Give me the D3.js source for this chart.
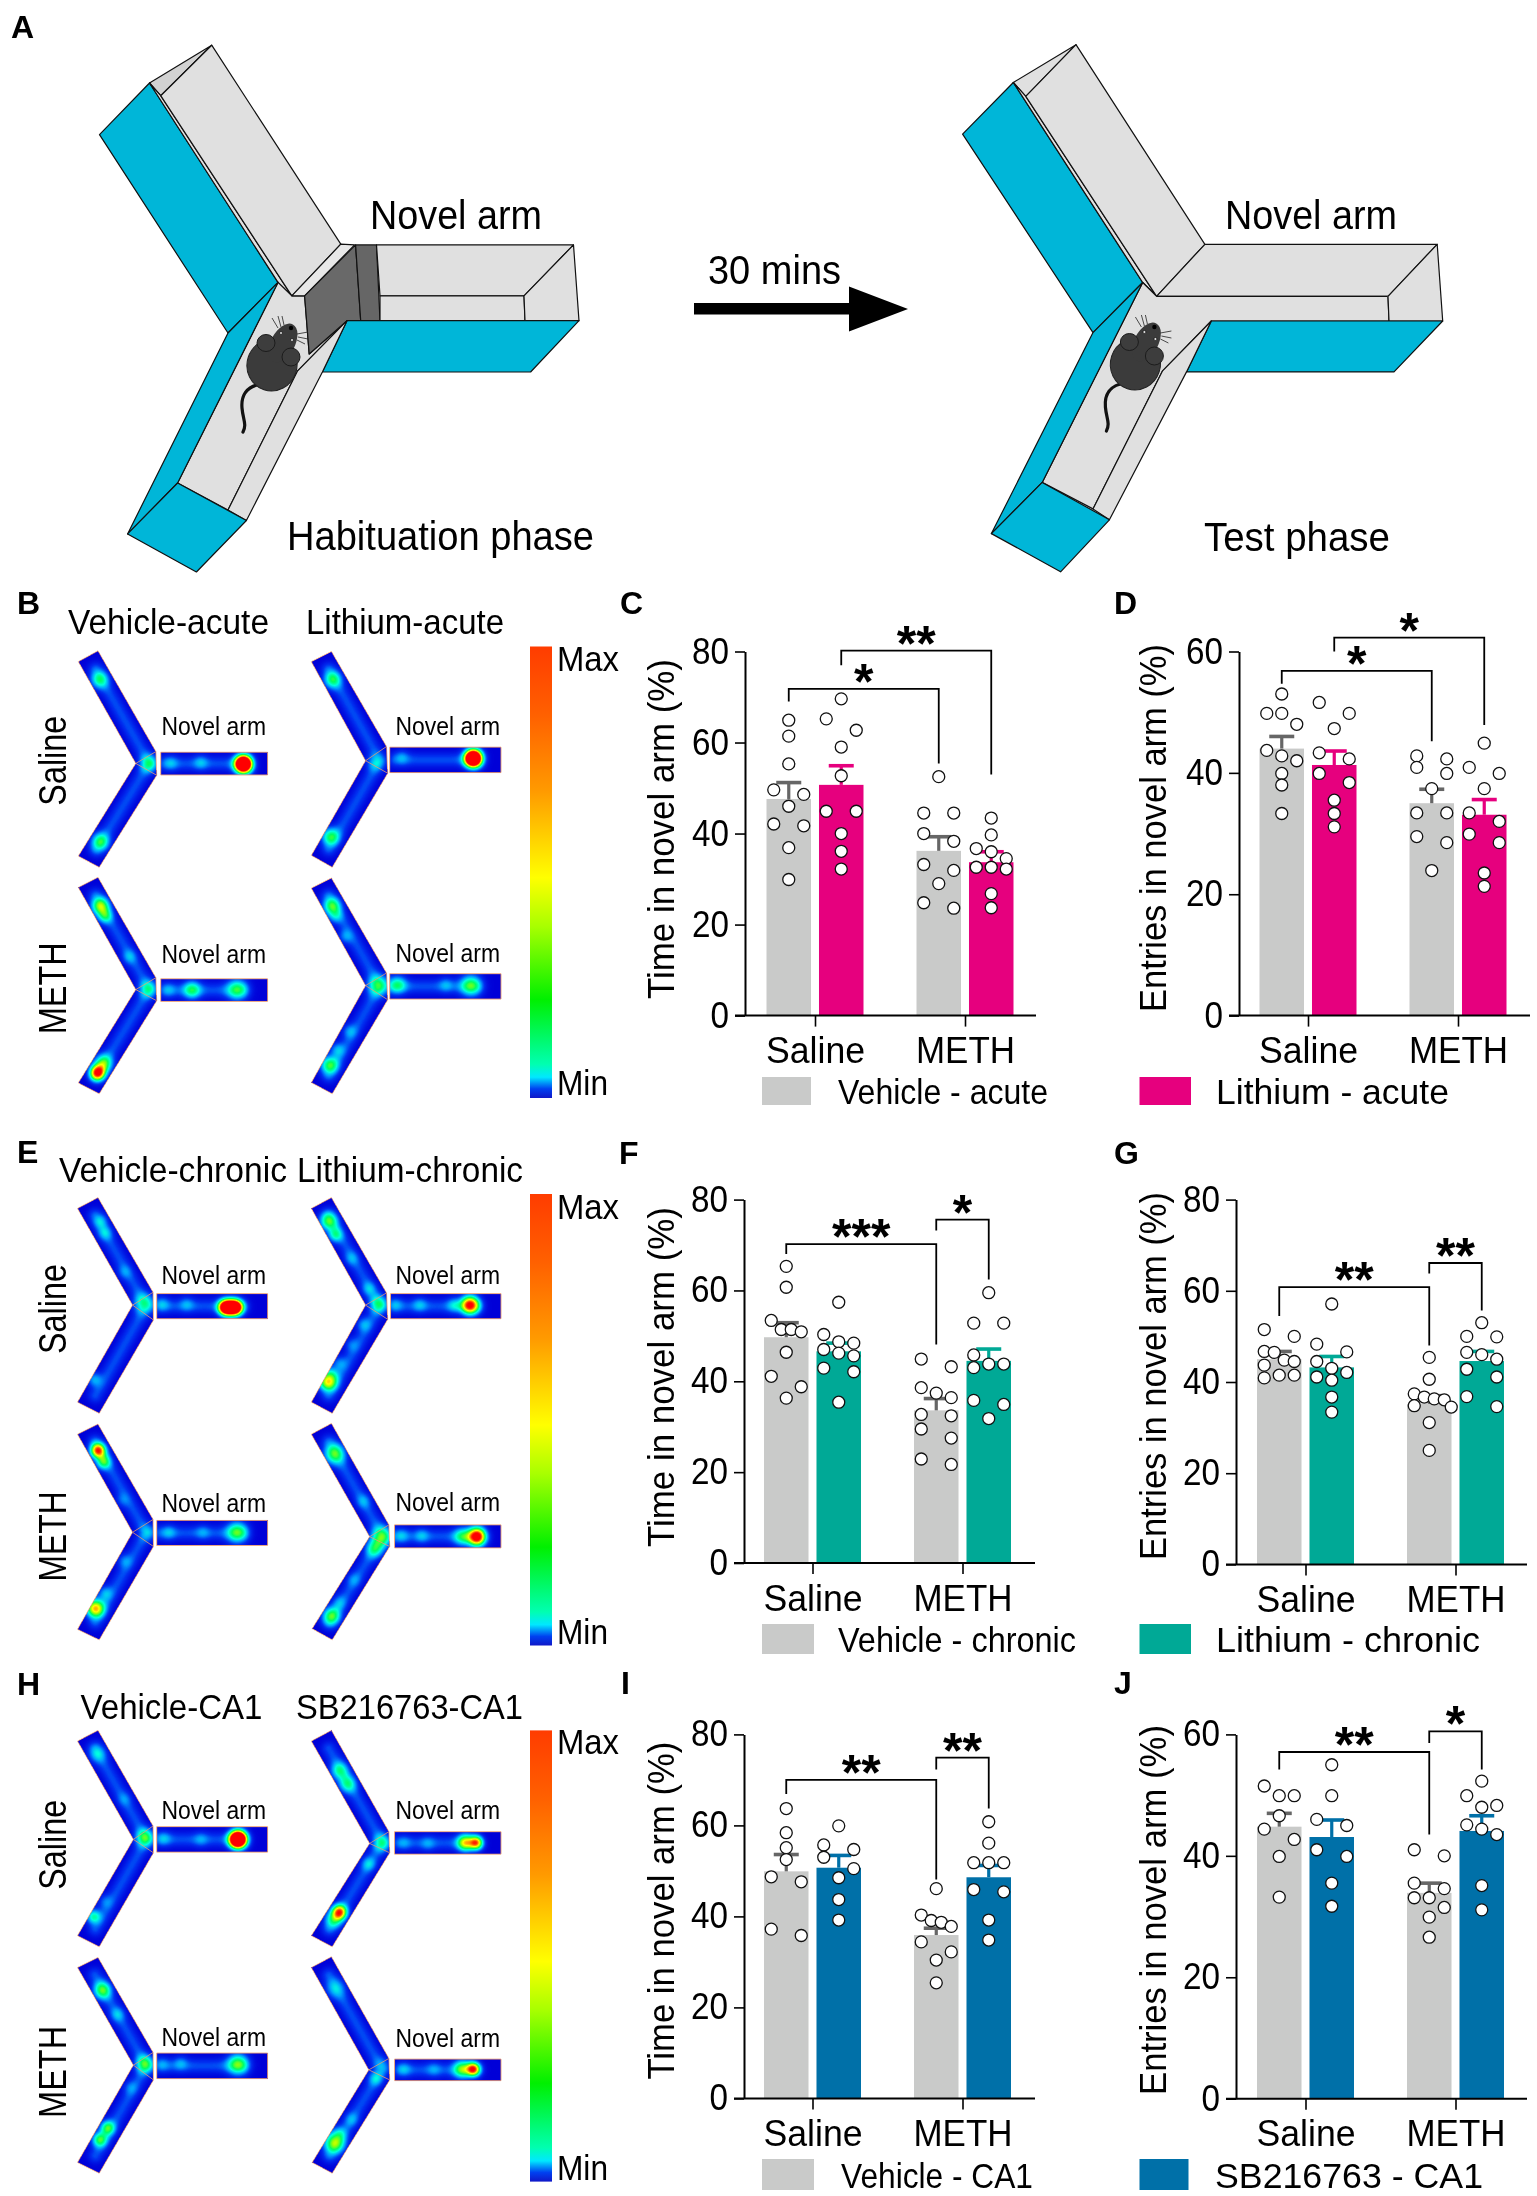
<!DOCTYPE html>
<html><head><meta charset="utf-8">
<script src="https://cdn.jsdelivr.net/npm/d3@7/dist/d3.min.js"></script>
<style>
html,body{margin:0;padding:0;background:#fff}
#wrap{position:relative;width:1537px;height:2196px;overflow:hidden}
canvas,svg{position:absolute;left:0;top:0}
text{font-family:"Liberation Sans",Arial,sans-serif;fill:#000}
</style></head><body><div id="wrap"><canvas id="heat" width="1537" height="2196"></canvas><svg id="fig" width="1537" height="2196"></svg></div>
<script>
// ---------- chart data ----------
const groups = ["Saline","METH"];
const seriesKeys = ["vehicle","drug"];
const C_means=[47.6,50.7,36.2,33.7], C_tops=[51.2,54.9,39.3,36.0];
const C_dots=[[64.9,61.4,55.3,49.6,48.6,46.0,42.1,41.7,36.9,29.9],[69.6,65.2,62.7,59,52.7,44.9,44.9,40,36.1,32.2],[52.5,44.5,44.5,40,38.3,33.2,31.9,29,24.8,23.6],[43.4,39.7,36.7,36,34.5,32.6,32.6,32.2,26.8,23.7]];
const D_means=[44,41.3,35,33.1], D_tops=[46,43.6,37.3,35.6];
const D_dots=[[53,49.8,49.8,48,43.7,42.8,42,39.9,38,33.3],[51.6,49.8,47.3,43.3,42.3,39.9,38.4,35.5,33.3,31.1],[42.8,42.3,40.9,39.9,37.4,33.4,33.4,29.5,28.5,23.9],[44.9,40.9,39.9,37.4,33.4,32,29.9,28.5,23.5,21.3]];
const F_means=[49.7,46.6,33.6,44.5], F_tops=[52.9,48.4,36.2,47.1];
const F_dots=[[65.3,60.7,53.4,51.4,51.4,50.9,46.4,41.1,38.8,36.3],[57.4,50.3,48.7,48.4,47,46.2,45.6,42.9,42.1,35.4],[44.9,43.2,38.6,37.4,36.4,32.7,32.4,29.5,27.5,22.9,21.7],[59.5,52.8,52.8,45.8,43.8,43.8,43,35.8,34.9,31.8]];
const G_means=[45,43.2,35.2,44.6], G_tops=[46.7,45.6,37,46.7];
const G_dots=[[51.5,50,46.7,46.5,44.8,44.5,43.7,41.5,41.5,40.9],[57.1,48.3,46.6,44.5,43,42.1,41.1,40.4,36.7,33.4],[45.4,40.6,37.4,36.7,36.3,36.1,34.8,34.5,31.1,25],[53,50,49.9,46.5,46,45,42.8,41.1,36.8,34.6]];
const I_means=[49.9,50.7,35.9,48.6], I_tops=[53.6,53.4,37.4,51.2];
const I_dots=[[63.7,58.4,55.1,52.5,48.7,47.6,37.2,35.8],[59.9,55.7,54.7,53,50.5,48.5,43.7,39.2],[46.1,40.3,39.1,38.7,37.8,34.4,32.2,30.4,25.4],[60.8,56.1,51.8,51.8,51.8,45.9,45.4,39.2,34.8]];
const J_means=[44.8,43.1,33.9,44.1], J_tops=[47,45.9,35.5,46.6];
const J_dots=[[51.5,49.9,49.9,46.6,44.4,42.7,39.9,33.2],[55,49.9,46,45,41,39.9,35.5,31.7],[41,40,35.5,34.6,33.1,33.1,31.5,29.9,26.6],[52.3,49.9,48.3,48,45.1,44.4,43.5,35.1,31.1]];
// significance: [from bar, to bar, bracket top, left leg end, right leg end, stars]
const C_sig=[[0,2,71.8,69,55.4,"*"],[1,3,80.2,77,53,"**"]];
const D_sig=[[0,2,56.8,54.7,45.2,"*"],[1,3,62.3,60,47.9,"*"]];
const F_sig=[[0,2,70.2,68,48.1,"***"],[2,3,75.6,73.2,62.4,"*"]];
const G_sig=[[0,2,60.8,54.5,48,"**"],[2,3,66.1,63.8,55.7,"**"]];
const I_sig=[[0,2,70,66.9,48.1,"**"],[2,3,74.9,72.3,63.7,"**"]];
const J_sig=[[0,2,57.1,54.2,43.5,"**"],[2,3,60.5,58.6,54.2,"*"]];
const timeTitle="Time in novel arm (%)", entryTitle="Entries in novel arm (%)";
const ticks80=[0,20,40,60,80], ticks60=[0,20,40,60];

const GRAY="#c9cac9", DGRAY="#666666", PINK="#e6007e", TEAL="#00a996", BLUE="#0070a8", CYAN="#00b6d8";

// ---------- layout of the six bar panels ----------
const barPanels=[
 {m:C_means,t:C_tops,d:C_dots,s:C_sig,max:80,ticks:ticks80,ax:745,c:[815,965],y0:1015.6,yT:651.5,title:timeTitle,tx:674,tc:829,tl:340,col:PINK,cat:1063},
 {m:D_means,t:D_tops,d:D_dots,s:D_sig,max:60,ticks:ticks60,ax:1239,c:[1308,1458],y0:1015.6,yT:651.5,title:entryTitle,tx:1166,tc:828,tl:368,col:PINK,cat:1063},
 {m:F_means,t:F_tops,d:F_dots,s:F_sig,max:80,ticks:ticks80,ax:744,c:[812.5,962.5],y0:1563,yT:1199.6,title:timeTitle,tx:674,tc:1377,tl:340,col:TEAL,cat:1611},
 {m:G_means,t:G_tops,d:G_dots,s:G_sig,max:80,ticks:ticks80,ax:1236,c:[1305.5,1455.5],y0:1564.4,yT:1199.6,title:entryTitle,tx:1166,tc:1376,tl:368,col:TEAL,cat:1612},
 {m:I_means,t:I_tops,d:I_dots,s:I_sig,max:80,ticks:ticks80,ax:744,c:[812.5,962.5],y0:2098.4,yT:1734.4,title:timeTitle,tx:674,tc:1910.6,tl:338,col:BLUE,cat:2146},
 {m:J_means,t:J_tops,d:J_dots,s:J_sig,max:60,ticks:ticks60,ax:1236,c:[1305.5,1455.5],y0:2098.7,yT:1734.4,title:entryTitle,tx:1166,tc:1910,tl:370,col:BLUE,cat:2146}
];

const svg=d3.select("#fig");
function T(x,y,str,size,width,o={}){
  const e=svg.append("text").attr("x",x).attr("y",y).attr("font-size",size).text(str);
  if(width){e.attr("textLength",width).attr("lengthAdjust","spacingAndGlyphs");}
  if(o.w)e.attr("font-weight",o.w);
  if(o.a)e.attr("text-anchor",o.a);
  if(o.rot)e.attr("transform",`rotate(-90 ${x} ${y})`);
  return e;
}

// ---------- panel A schematic ----------
const mazeA=[
 [CYAN,[[149.5,83],[99.5,134.7],[228,333],[278,282.4]]],
 ["#d2d2d2",[[149.5,83],[211.7,45.2],[160.7,95.7]]],
 ["#e2e2e2",[[149.5,83],[160.7,95.7],[291.8,295.8],[278,282.4]]],
 ["#e0e0e0",[[211.7,45.2],[340.8,244.2],[291.8,295.8],[160.7,95.7]]],
 ["#e0e0e0",[[278,282.4],[291.8,295.8],[304.6,295.8],[309.2,354],[347,320.7],[297.4,371.2],[228,510],[177.6,483]]],
 [CYAN,[[278,282.4],[228,333],[127.6,533.9],[177.6,483]]],
 ["#e8e8e8",[[340.8,244.2],[354.6,244.9],[304.6,295.8],[291.8,295.8]]],
 ["#696969",[[304.6,295.8],[355.6,244.9],[360.7,320.7],[347,320.7],[309.2,354]]],
 ["#666666",[[355.6,244.9],[376.5,244.9],[380,320.7],[360.7,320.7]]],
 ["#e0e0e0",[[376.5,244.9],[573.5,244.9],[524,295.8],[380,295.8]]],
 ["#e0e0e0",[[380,295.8],[524,295.8],[525,320.7],[380,320.7]]],
 ["#e0e0e0",[[573.5,244.9],[579,320.7],[525,320.7],[524,295.8]]],
 [CYAN,[[347,320.7],[579,320.7],[530.6,372],[322.4,372]]],
 ["#e0e0e0",[[347,320.7],[322.4,372],[246.4,520.5],[228,510],[297.4,371.2]]],
 [CYAN,[[127.6,533.9],[177.6,483],[246.4,520.5],[196.4,572]]]
];
const mazeB=[
 [CYAN,[[1013.3,82.5],[962.6,134.1],[1093,332.6],[1142.7,282.5]]],
 ["#e0e0e0",[[1013.3,82.5],[1076,44.7],[1025.8,96.3]]],
 ["#e2e2e2",[[1013.3,82.5],[1025.8,96.3],[1156.6,296.3],[1142.7,282.5]]],
 ["#e0e0e0",[[1076,44.7],[1204.9,244.3],[1156.6,296.3],[1025.8,96.3]]],
 ["#e0e0e0",[[1204.9,244.3],[1437.2,244.3],[1388,296.3],[1156.6,296.3]]],
 ["#e0e0e0",[[1156.6,296.3],[1388,296.3],[1389,321],[1211.3,321],[1162.6,370.8],[1093,508.9],[1042.2,482.4],[1142.7,282.5]]],
 ["#e0e0e0",[[1437.2,244.3],[1442.7,321],[1389,321],[1388,296.3]]],
 [CYAN,[[1211.3,321],[1442.7,321],[1394,371.9],[1186.5,371.9]]],
 [CYAN,[[1142.7,282.5],[1093,332.6],[991.4,533.6],[1042.2,482.4]]],
 ["#e0e0e0",[[1211.3,321],[1186.5,371.9],[1109.4,519.8],[1093,508.9],[1162.6,370.8]]],
 [CYAN,[[991.4,533.6],[1042.2,482.4],[1109.4,519.8],[1060.6,571.8]]]
];
const lineGen=d3.line();
[mazeA,mazeB].forEach(mz=>mz.forEach(([f,p])=>{
  svg.append("path").attr("d",lineGen(p)+"Z").attr("fill",f).attr("stroke","#111").attr("stroke-width",1.2).attr("stroke-linejoin","round");
}));
function mouse(dx,dy){
  const g=svg.append("g").attr("transform",`translate(${dx},${dy})`);
  const body="#3b3b3b";
  g.append("path").attr("d","M262,384 C246,386 241,396 242,408 C243,420 247,424 243,432").attr("fill","none").attr("stroke","#111").attr("stroke-width",3.2).attr("stroke-linecap","round");
  g.append("ellipse").attr("cx",272).attr("cy",365).attr("rx",25).attr("ry",26).attr("transform","rotate(18 272 365)").attr("fill",body).attr("stroke","#222");
  g.append("ellipse").attr("cx",283).attr("cy",343).attr("rx",12).attr("ry",21).attr("transform","rotate(28 283 343)").attr("fill",body);
  g.append("ellipse").attr("cx",266).attr("cy",343).attr("rx",9).attr("ry",8.5).attr("fill","#3d3d3d").attr("stroke","#1c1c1c");
  g.append("ellipse").attr("cx",291).attr("cy",357).attr("rx",9).attr("ry",9).attr("fill","#3d3d3d").attr("stroke","#1c1c1c");
  [[281,333],[292,340]].forEach(p=>g.append("circle").attr("cx",p[0]).attr("cy",p[1]).attr("r",1.5).attr("fill","#ddd").attr("stroke","#000").attr("stroke-width",.6));
  g.append("circle").attr("cx",291).attr("cy",328).attr("r",2.2).attr("fill","#000");
  [[278,328,272,318],[281,327,278,316],[284,325,282,316],[297,334,308,332],[298,337,308,339],[297,340,305,344]].forEach(l=>
    g.append("line").attr("x1",l[0]).attr("y1",l[1]).attr("x2",l[2]).attr("y2",l[3]).attr("stroke","#222").attr("stroke-width",.8));
}
mouse(0,0); mouse(863.4,-1);
svg.append("path").attr("d",lineGen([[694,303],[849,303],[849,286.5],[908,309],[849,331.5],[849,314.5],[694,314.5]])+"Z").attr("fill","#000");
T(370,229,"Novel arm",40,172);
T(287,550,"Habituation phase",40,307);
T(708,283.5,"30 mins",40,133);
T(1225,229,"Novel arm",40,172);
T(1204,551,"Test phase",40,186);

// ---------- panel letters ----------
[["A",11,38],["B",17,614],["C",620,614],["D",1114,614],["E",17,1163],["F",619,1164],["G",1114,1164],["H",17,1695],["I",621,1694],["J",1114,1694]]
 .forEach(d=>T(d[1],d[2],d[0],32,null,{w:"bold"}));

// ---------- bar panels ----------
barPanels.forEach(p=>{
  const y=d3.scaleLinear().domain([0,p.max]).range([p.y0,p.yT]);
  const xG=d3.scalePoint().domain(groups).range(p.c);
  const xS=d3.scaleBand().domain(seriesKeys).range([-48.5,48.5]).paddingInner(.152);
  const rows=[];
  groups.forEach((g,gi)=>seriesKeys.forEach((s,si)=>{
    const k=gi*2+si;
    rows.push({g,s,k,mean:p.m[k],top:p.t[k],dots:p.d[k],x:xG(g)+xS(s),cx:xG(g)+xS(s)+xS.bandwidth()/2,
      fill:si?p.col:GRAY,err:si?p.col:DGRAY});
  }));
  const root=svg.append("g");
  root.selectAll("rect.bar").data(rows).join("rect").attr("class","bar")
    .attr("x",d=>d.x).attr("width",xS.bandwidth()).attr("y",d=>y(d.mean)).attr("height",d=>y(0)-y(d.mean)).attr("fill",d=>d.fill);
  root.selectAll("line.stem").data(rows).join("line").attr("class","stem")
    .attr("x1",d=>d.cx).attr("x2",d=>d.cx).attr("y1",d=>y(d.mean)).attr("y2",d=>y(d.top)).attr("stroke",d=>d.err).attr("stroke-width",3.2);
  root.selectAll("line.cap").data(rows).join("line").attr("class","cap")
    .attr("x1",d=>d.cx-12.5).attr("x2",d=>d.cx+12.5).attr("y1",d=>y(d.top)).attr("y2",d=>y(d.top)).attr("stroke",d=>d.err).attr("stroke-width",3.6);
  // dots: a small beeswarm from the values
  rows.forEach(r=>{
    const vals=r.dots.slice().sort((a,b)=>b-a), placed=[];
    let i=0;
    while(i<vals.length){
      let j=i; while(j<vals.length && y(vals[j])-y(vals[i])<11.5)j++;
      const n=j-i;
      const off=d3.scalePoint().domain(d3.range(n)).range([-15,15]);
      const order=d3.range(n).map(q=>(n===3&&q===1)?0:q);
      for(let q=i;q<j;q++){
        const py=y(vals[q]);
        let ox=n===1?0:off(q-i);
        const cand=[ox,-15,15,0,-8,8,-22,22];
        for(const c of cand){ if(!placed.some(u=>Math.hypot(u[0]-c,u[1]-py)<10)){ox=c;break;} }
        placed.push([ox,py]);
      }
      i=j;
    }
    root.selectAll(null).data(placed).join("circle")
      .attr("cx",d=>r.cx+d[0]).attr("cy",d=>d[1]).attr("r",6).attr("fill","#fff").attr("stroke","#111").attr("stroke-width",1.3);
  });
  // axes
  const ya=svg.append("g").attr("transform",`translate(${p.ax},0)`)
    .call(d3.axisLeft(y).tickValues(p.ticks).tickSize(10).tickSizeOuter(0).tickPadding(6));
  ya.selectAll("text").attr("font-size",36).attr("font-family",'"Liberation Sans"').attr("fill","#000")
    .attr("textLength",d=>String(d).length*18.5).attr("lengthAdjust","spacingAndGlyphs");
  ya.selectAll("line").attr("stroke","#000").attr("stroke-width",1.6);
  ya.select(".domain").attr("stroke","#000").attr("stroke-width",2);
  const xa=svg.append("g").attr("transform",`translate(0,${p.y0})`)
    .call(d3.axisBottom(xG).tickSize(11).tickSizeOuter(0));
  xa.select(".domain").remove();
  xa.selectAll("line").attr("stroke","#000").attr("stroke-width",1.6);
  xa.selectAll("text").attr("font-size",37).attr("font-family",'"Liberation Sans"').attr("fill","#000")
    .attr("y",p.cat-p.y0).attr("dy",0).attr("textLength",99).attr("lengthAdjust","spacingAndGlyphs");
  svg.append("line").attr("x1",p.ax-10).attr("x2",p.ax+291).attr("y1",p.y0).attr("y2",p.y0).attr("stroke","#000").attr("stroke-width",2);
  T(p.tx,p.tc,p.title,37,p.tl,{rot:true,a:"middle"});
  // brackets
  p.s.forEach(b=>{
    const a=rows[b[0]].cx, c=rows[b[1]].cx;
    svg.append("path").attr("d",lineGen([[a,y(b[3])],[a,y(b[2])],[c,y(b[2])],[c,y(b[4])]])).attr("fill","none").attr("stroke","#000").attr("stroke-width",1.8);
    T((a+c)/2,y(b[2])+10,b[5],50,null,{w:"bold",a:"middle"});
  });
});

// ---------- legends ----------
[[762,1077,49,28,GRAY,838,1104,"Vehicle - acute",210],[1139.5,1077,51.5,28,PINK,1216,1104,"Lithium - acute",233],
 [762,1624,52,30,GRAY,838,1652,"Vehicle - chronic",238],[1139.5,1624,51.5,30,TEAL,1216,1652,"Lithium - chronic",264],
 [762,2159,52,31,GRAY,841,2188,"Vehicle - CA1",192],[1139.5,2159,49,31,BLUE,1215,2188,"SB216763 - CA1",268]]
 .forEach(l=>{
  svg.append("rect").attr("x",l[0]).attr("y",l[1]).attr("width",l[2]).attr("height",l[3]).attr("fill",l[4]);
  T(l[5],l[6],l[7],35,l[8]);
 });

// ---------- heat maps ----------
const heatColor=d3.scaleLinear()
 .domain([0,.09,.2,.31,.44,.58,.68,.78,.9,1])
 .range(["#0000d8","#0030f0","#00a0ff","#00ffe0","#00ff60","#a0ff00","#ffff00","#ffa000","#ff3000","#ff0000"]);
const lut=d3.range(256).map(i=>d3.rgb(heatColor(i/255)));
const ctx=document.getElementById("heat").getContext("2d");
// coordinates below are on a crop grid: x/2.489, base + y/sy gives page pixels
const heatPanels=[
 {base:590,sy:2.958,maps:[
  {a:[[195,212],[244,180],[388,478],[390,548],[247,820],[195,787],[338,513]],r:[400,666,480,547],
   sp:[[248,265,.33,6],[250,745,.38,6],[370,513,.33,6],[606,515,2,5.5],[500,510,.2,5],[425,512,.2,5]]},
  {a:[[775,212],[825,182],[962,463],[965,542],[827,820],[775,785],[910,505]],r:[970,1247,465,540],
   sp:[[828,265,.36,6],[823,730,.4,6],[935,510,.28,6],[1178,498,2,5.5],[1000,495,.18,5]]},
  {a:[[195,880],[244,850],[388,1147],[390,1215],[247,1490],[195,1458],[338,1182]],r:[400,666,1150,1217],
   sp:[[250,935,.5,6],[262,965,.3,5],[322,1085,.2,5],[368,1180,.3,6],[243,1428,.95,5],[258,1400,.42,6],[478,1183,.35,6],[590,1182,.38,7],[420,1183,.18,5]]},
  {a:[[775,882],[825,852],[962,1133],[965,1212],[827,1490],[775,1457],[910,1170]],r:[970,1247,1135,1210],
   sp:[[826,935,.4,6],[835,965,.25,5],[860,1025,.2,5],[940,1170,.38,7],[820,1405,.42,6],[840,1360,.25,5],[870,1305,.2,5],[990,1168,.32,6],[1172,1170,.42,7],[1110,1168,.18,5]]}
 ]},
 {base:1130,sy:2.958,maps:[
  {a:[[193,232],[244,200],[381,480],[382,562],[247,838],[193,805],[330,518]],r:[390,666,484,558],
   sp:[[250,270,.25,5],[262,305,.25,5],[310,420,.15,5],[358,513,.3,7],[235,738,.27,5],[563,525,1.5,5],[585,525,1.5,5],[405,515,.2,5],[465,515,.18,5]]},
  {a:[[775,232],[825,200],[962,482],[965,560],[827,838],[775,805],[910,518]],r:[972,1247,484,558],
   sp:[[818,270,.42,6],[835,310,.3,5],[875,380,.18,5],[918,470,.22,5],[942,515,.33,6],[1170,518,.95,6],[1130,518,.25,5],[1045,517,.2,5],[985,517,.18,5],[905,575,.22,5],[875,635,.15,5],[845,690,.2,5],[816,745,.65,6],[825,720,.25,5]]},
  {a:[[193,900],[244,870],[381,1152],[382,1232],[247,1508],[193,1477],[330,1190]],r:[390,666,1155,1229],
   sp:[[244,948,.85,5],[258,982,.4,5],[305,1095,.13,5],[368,1190,.22,6],[310,1275,.18,5],[262,1370,.25,5],[237,1415,.72,6],[590,1190,.42,7],[420,1190,.2,5],[505,1190,.15,5]]},
  {a:[[775,900],[825,868],[968,1168],[970,1232],[827,1508],[777,1475],[920,1203]],r:[982,1247,1168,1236],
   sp:[[833,958,.42,7],[905,1098,.18,5],[950,1203,.42,7],[932,1240,.3,6],[880,1330,.15,5],[845,1398,.18,5],[825,1438,.42,6],[1187,1203,1.05,6],[1150,1203,.32,6],[1050,1200,.2,5],[1000,1200,.2,5]]}
 ]},
 {base:1670,sy:2.981,maps:[
  {a:[[193,212],[244,180],[381,465],[382,545],[247,825],[193,792],[332,505]],r:[390,666,467,543],
   sp:[[243,250,.28,6],[310,385,.13,5],[360,500,.42,6],[592,505,2,5.5],[408,502,.2,5],[500,505,.15,5],[233,735,.33,5],[262,690,.15,5]]},
  {a:[[775,212],[825,180],[968,482],[970,545],[827,825],[775,792],[920,517]],r:[982,1247,482,549],
   sp:[[845,300,.3,6],[865,340,.3,6],[950,515,.3,6],[917,578,.25,5],[845,722,.8,5],[830,745,.3,6],[1185,515,.72,4.5],[1158,515,.6,5.5],[1065,517,.15,5],[1005,515,.15,5]]},
  {a:[[193,887],[244,857],[381,1140],[382,1222],[247,1500],[193,1468],[332,1178]],r:[390,666,1142,1218],
   sp:[[255,955,.42,6],[293,1027,.22,5],[360,1175,.42,6],[592,1175,.45,7],[450,1172,.18,5],[405,1175,.15,5],[325,1245,.15,5],[268,1365,.42,5],[248,1400,.42,5]]},
  {a:[[775,887],[825,855],[968,1158],[970,1222],[827,1500],[777,1468],[918,1192]],r:[982,1247,1160,1224],
   sp:[[835,950,.25,7],[950,1180,.17,6],[935,1218,.27,5],[875,1340,.18,5],[832,1410,.5,7],[845,1380,.2,5],[1178,1190,.85,4.5],[1150,1190,.45,6],[1005,1190,.2,5],[1080,1190,.15,5]]}
 ]}
];
function segDist(px,py,a,b){
  const vx=b[0]-a[0],vy=b[1]-a[1],t=Math.max(0,Math.min(1,((px-a[0])*vx+(py-a[1])*vy)/(vx*vx+vy*vy)));
  return Math.hypot(px-a[0]-t*vx,py-a[1]-t*vy);
}
heatPanels.forEach(P=>P.maps.forEach(M=>{
  const X=x=>x/2.489, Y=y=>P.base+y/P.sy;
  const A=M.a.map(q=>[X(q[0]),Y(q[1])]);
  const R=[[X(M.r[0]),Y(M.r[2])],[X(M.r[1]),Y(M.r[2])],[X(M.r[1]),Y(M.r[3])],[X(M.r[0]),Y(M.r[3])]];
  const J=A[6], ctr=[(J[0]+A[2][0]+A[3][0])/3,(J[1]+A[2][1]+A[3][1])/3];
  const e1=[(A[0][0]+A[1][0])/2,(A[0][1]+A[1][1])/2], e2=[(A[4][0]+A[5][0])/2,(A[4][1]+A[5][1])/2];
  const lerp=(a,b,t)=>[a[0]+(b[0]-a[0])*t,a[1]+(b[1]-a[1])*t];
  const midY=(R[0][1]+R[2][1])/2;
  const segs=[[lerp(e1,ctr,.12),ctr],[lerp(e2,ctr,.12),ctr],[[R[0][0]+6,midY],[R[1][0]-25,midY]]];
  const spots=M.sp.map(s=>[X(s[0]),Y(s[1]),s[2]<.3?s[2]*.7:s[2],s[3]]);
  const all=A.concat(R);
  const x0=Math.floor(d3.min(all,d=>d[0])), x1=Math.ceil(d3.max(all,d=>d[0]));
  const y0=Math.floor(d3.min(all,d=>d[1])), y1=Math.ceil(d3.max(all,d=>d[1]));
  const img=ctx.createImageData(x1-x0,y1-y0);
  for(let py=y0;py<y1;py++)for(let px=x0;px<x1;px++){
    const q=[px+.5,py+.5];
    if(!d3.polygonContains(A,q)&&!d3.polygonContains(R,q))continue;
    let f=0;
    const ds=d3.min(segs,s=>segDist(q[0],q[1],s[0],s[1]));
    f+=.115*Math.exp(-ds*ds/(2*5*5));
    spots.forEach(s=>{const dx=q[0]-s[0],dy=q[1]-s[1];f+=s[2]*Math.exp(-(dx*dx+dy*dy)/(2*s[3]*s[3]));});
    const c=lut[Math.min(255,Math.round(Math.min(1,f)*255))];
    const idx=((py-y0)*(x1-x0)+(px-x0))*4;
    img.data[idx]=c.r;img.data[idx+1]=c.g;img.data[idx+2]=c.b;img.data[idx+3]=255;
  }
  ctx.putImageData(img,x0,y0);
  const edge="#e89a70";
  svg.append("path").attr("d",lineGen(A)+"Z").attr("fill","none").attr("stroke",edge).attr("stroke-width",.8);
  svg.append("path").attr("d",lineGen(R)+"Z").attr("fill","none").attr("stroke",edge).attr("stroke-width",.9);
  svg.append("path").attr("d",lineGen([A[2],J,A[3]])).attr("fill","none").attr("stroke",edge).attr("stroke-width",.8);
}));

// ---------- colour bars ----------
const barStops=[[0,"#1018c8"],[.02,"#0040f0"],[.046,"#00e8ff"],[.075,"#00ffb0"],[.218,"#00f000"],[.38,"#a8ff00"],[.488,"#ffff00"],[.68,"#ff9a00"],[.85,"#ff6000"],[1,"#ff3c00"]];
const defs=svg.append("defs");
const grad=defs.append("linearGradient").attr("id","cbar").attr("x1",0).attr("x2",0).attr("y1",1).attr("y2",0);
grad.selectAll("stop").data(barStops).join("stop").attr("offset",d=>d[0]).attr("stop-color",d=>d[1]);
[[646.5,1098,671,1095],[1194,1645.5,1219,1644],[1730.4,2181.6,1754,2180]].forEach(b=>{
  svg.append("rect").attr("x",530).attr("y",b[0]).attr("width",22).attr("height",b[1]-b[0]).attr("fill","url(#cbar)");
  T(557,b[2],"Max",35,62);
  T(557,b[3],"Min",35,51);
});

// ---------- heat map labels ----------
[["Vehicle-acute",68,634,201],["Lithium-acute",306,634,198],["Vehicle-chronic",59,1182.4,228],["Lithium-chronic",297,1182.4,226],["Vehicle-CA1",80.5,1718.6,182],["SB216763-CA1",296,1718.6,227]]
 .forEach(d=>T(d[1],d[2],d[0],35,d[3]));
[["Saline",66,760.7,90],["METH",66,988.2,92],["Saline",66,1309,90],["METH",66,1536.4,90],["Saline",66,1844.8,90],["METH",66,2071.9,92]]
 .forEach(d=>T(d[1],d[2],d[0],38,d[3],{rot:true,a:"middle"}));
[[161.5,734.7],[395.5,734.7],[161.5,963],[395.5,962],[161.5,1283.8],[395.5,1283.8],[161.5,1512],[395.5,1511],[161.5,1819.3],[395.5,1819.3],[161.5,2045.7],[395.5,2046.7]]
 .forEach(d=>T(d[0],d[1],"Novel arm",26,104.5));
</script></body></html>
